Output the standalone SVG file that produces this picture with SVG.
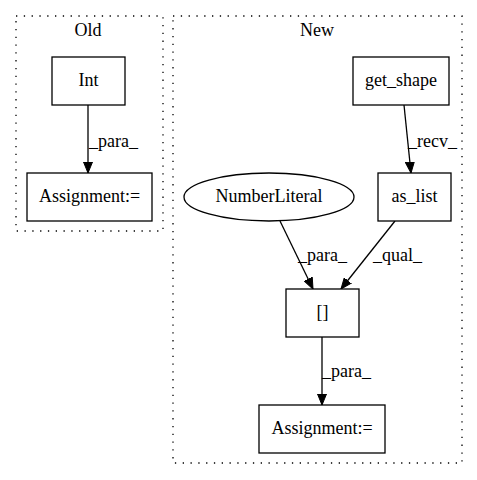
<svg xmlns="http://www.w3.org/2000/svg" width="477" height="480" viewBox="0 0 477 480">
<defs>
<style>
text{font-family:"Liberation Serif","Times New Roman",serif;font-size:18px;fill:#000}
.c{fill:none;stroke:#000;stroke-width:1.3;stroke-dasharray:1.3,6.5}
.n{fill:#fff;stroke:#000;stroke-width:1.3}
.e{fill:none;stroke:#000;stroke-width:1.3}
.m{text-anchor:middle}
</style>
<marker id="a" markerWidth="11" markerHeight="10" refX="11" refY="5" orient="auto" markerUnits="userSpaceOnUse">
<path d="M0,0.5 L11,5 L0,9.5 Z" fill="#000" stroke="#000"/>
</marker>
</defs>
<rect width="477" height="480" fill="#fff"/>
<g id="cluster_old">
<rect class="c" x="16" y="16" width="147" height="215"/>
<text class="m" x="88" y="36">Old</text>
</g>
<g id="cluster_new">
<rect class="c" x="173" y="16" width="289" height="447"/>
<text class="m" x="317" y="36">New</text>
</g>
<g id="connectors">
<path class="e" d="M88,105 L88,173" marker-end="url(#a)"/>
<text x="89" y="147">_para_</text>
<path class="e" d="M404,105 L411,173" marker-end="url(#a)"/>
<text x="408" y="147">_recv_</text>
<path class="e" d="M280,221 L313,289" marker-end="url(#a)"/>
<text x="298" y="261">_para_</text>
<path class="e" d="M395,221 L341,289" marker-end="url(#a)"/>
<text x="373" y="261">_qual_</text>
<path class="e" d="M322,337 L322,405" marker-end="url(#a)"/>
<text x="322" y="377">_para_</text>
</g>
<g id="int">
<rect class="n" x="52" y="57" width="73" height="48"/>
<text class="m" x="88.5" y="86">Int</text>
</g>
<g id="assign_old">
<rect class="n" x="27" y="173" width="125" height="48"/>
<text class="m" x="89.5" y="202">Assignment:=</text>
</g>
<g id="get_shape">
<rect class="n" x="353" y="57" width="96" height="48"/>
<text class="m" x="401" y="86">get_shape</text>
</g>
<g id="as_list">
<rect class="n" x="378" y="173" width="73" height="48"/>
<text class="m" x="414.5" y="202">as_list</text>
</g>
<g id="number_literal">
<ellipse class="n" cx="269" cy="197" rx="85" ry="24"/>
<text class="m" x="269" y="202">NumberLiteral</text>
</g>
<g id="index">
<rect class="n" x="286" y="289" width="73" height="48"/>
<text class="m" x="322.5" y="318">[]</text>
</g>
<g id="assign_new">
<rect class="n" x="259" y="405" width="126" height="48"/>
<text class="m" x="322" y="434">Assignment:=</text>
</g>
</svg>
